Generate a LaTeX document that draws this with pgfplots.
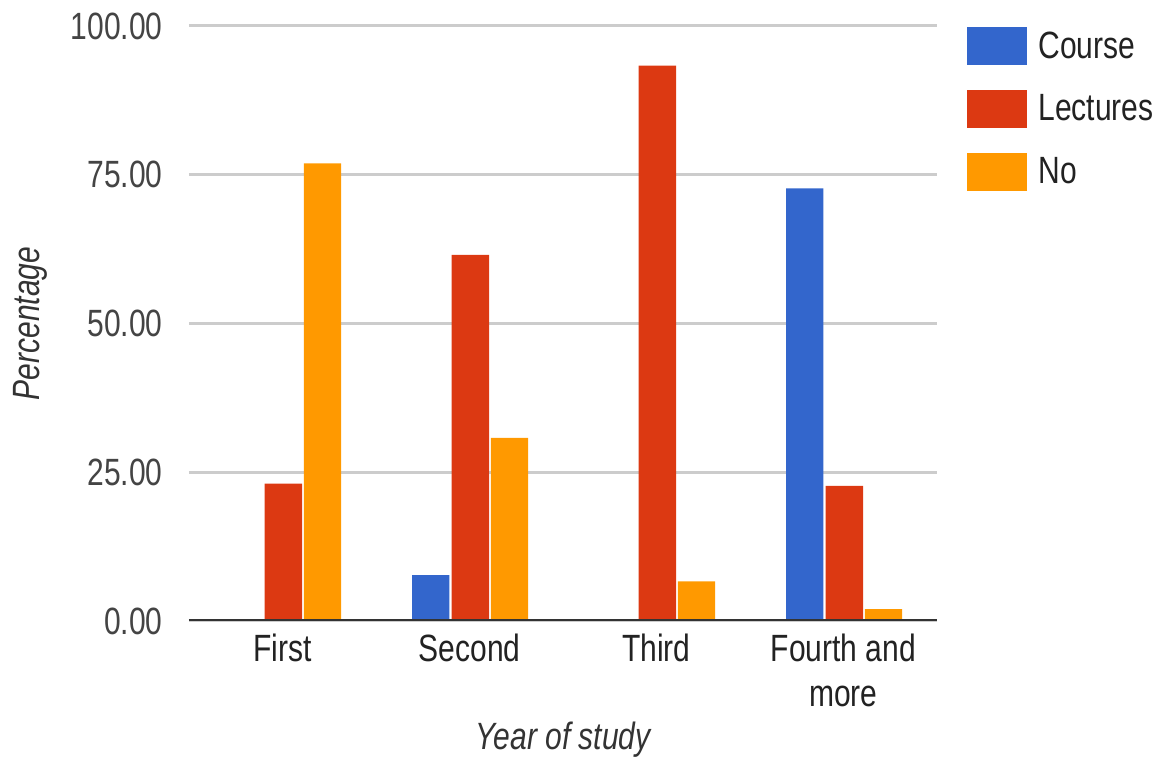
\documentclass[border=0pt]{standalone}
\usepackage{fontspec}
\setmainfont{Liberation Sans}[FakeStretch=0.79]
\usepackage{pgfplots}
\pgfplotsset{compat=1.18}

\definecolor{course}{HTML}{3366CC}
\definecolor{lectures}{HTML}{DC3912}
\definecolor{nocol}{HTML}{FF9900}
\definecolor{gridgray}{HTML}{CCCCCC}
\definecolor{basegray}{HTML}{333333}
\definecolor{ticktext}{HTML}{444444}
\definecolor{darktext}{HTML}{222222}

\newcommand{\chartfont}{\fontsize{19pt}{22.5pt}\selectfont}

\begin{document}
\begin{tikzpicture}
% page frame around the axis box (axis box lower-left corner at the origin)
\useasboundingbox (-94.5pt,-69.5pt) rectangle (484.5pt,310.5pt);
\begin{axis}[
    scale only axis,
    width=374pt, height=297.5pt,
    xmin=-0.5, xmax=3.5,
    ymin=0, ymax=100,
    axis line style={draw=none},
    major tick style={draw=none},
    xtick={0,1,2,3},
    xticklabels={First, Second, Third, {Fourth and\\more}},
    xticklabel style={font=\chartfont, text=darktext, align=center,
        inner sep=0pt, anchor=north, yshift=-6.5pt},
    ytick={0,25,50,75,100},
    ymajorgrids,
    grid style={gridgray, line width=1.5pt},
    yticklabel style={font=\chartfont, text=ticktext, inner sep=0pt,
        anchor=east, xshift=-13pt},
    /pgf/number format/.cd, fixed, fixed zerofill, precision=2,
        assume math mode=true,
    /pgfplots/.cd,
    xlabel={\itshape Year of study},
    xlabel style={font=\chartfont, text=basegray,
        at={(axis description cs:0.5,0)}, anchor=center, yshift=-59.5pt},
    ylabel={\itshape Percentage},
    ylabel style={font=\chartfont, text=basegray,
        at={(axis description cs:-0.2126,0.5)}, anchor=center},
    legend image code/.code={\fill[#1] (0pt,-9.5pt) rectangle (30pt,9.5pt);},
    legend style={at={(rel axis cs:1.0401,0.9985)}, anchor=north west,
        draw=none, fill=none, inner sep=0pt, row sep=12.5pt,
        column sep=5.5pt, font=\chartfont, text=darktext,
        nodes={inner sep=0pt}},
    legend cell align=left,
]
% Course
\addplot[ybar, bar width=0.2, bar shift=-0.207, fill=course, draw=none]
    coordinates {(0,0) (1,7.69) (2,0) (3,72.73)};
\addlegendentry{Course}
% Lectures
\addplot[ybar, bar width=0.2, bar shift=0.005, fill=lectures, draw=none]
    coordinates {(0,23.08) (1,61.54) (2,93.33) (3,22.73)};
\addlegendentry{Lectures}
% No
\addplot[ybar, bar width=0.2, bar shift=0.214, fill=nocol, draw=none]
    coordinates {(0,76.92) (1,30.77) (2,6.67) (3,2.0)};
\addlegendentry{No}
% baseline at zero
\draw[basegray, line width=2pt] (axis cs:-0.5,0) -- (axis cs:3.5,0);
\end{axis}
\end{tikzpicture}
\end{document}
